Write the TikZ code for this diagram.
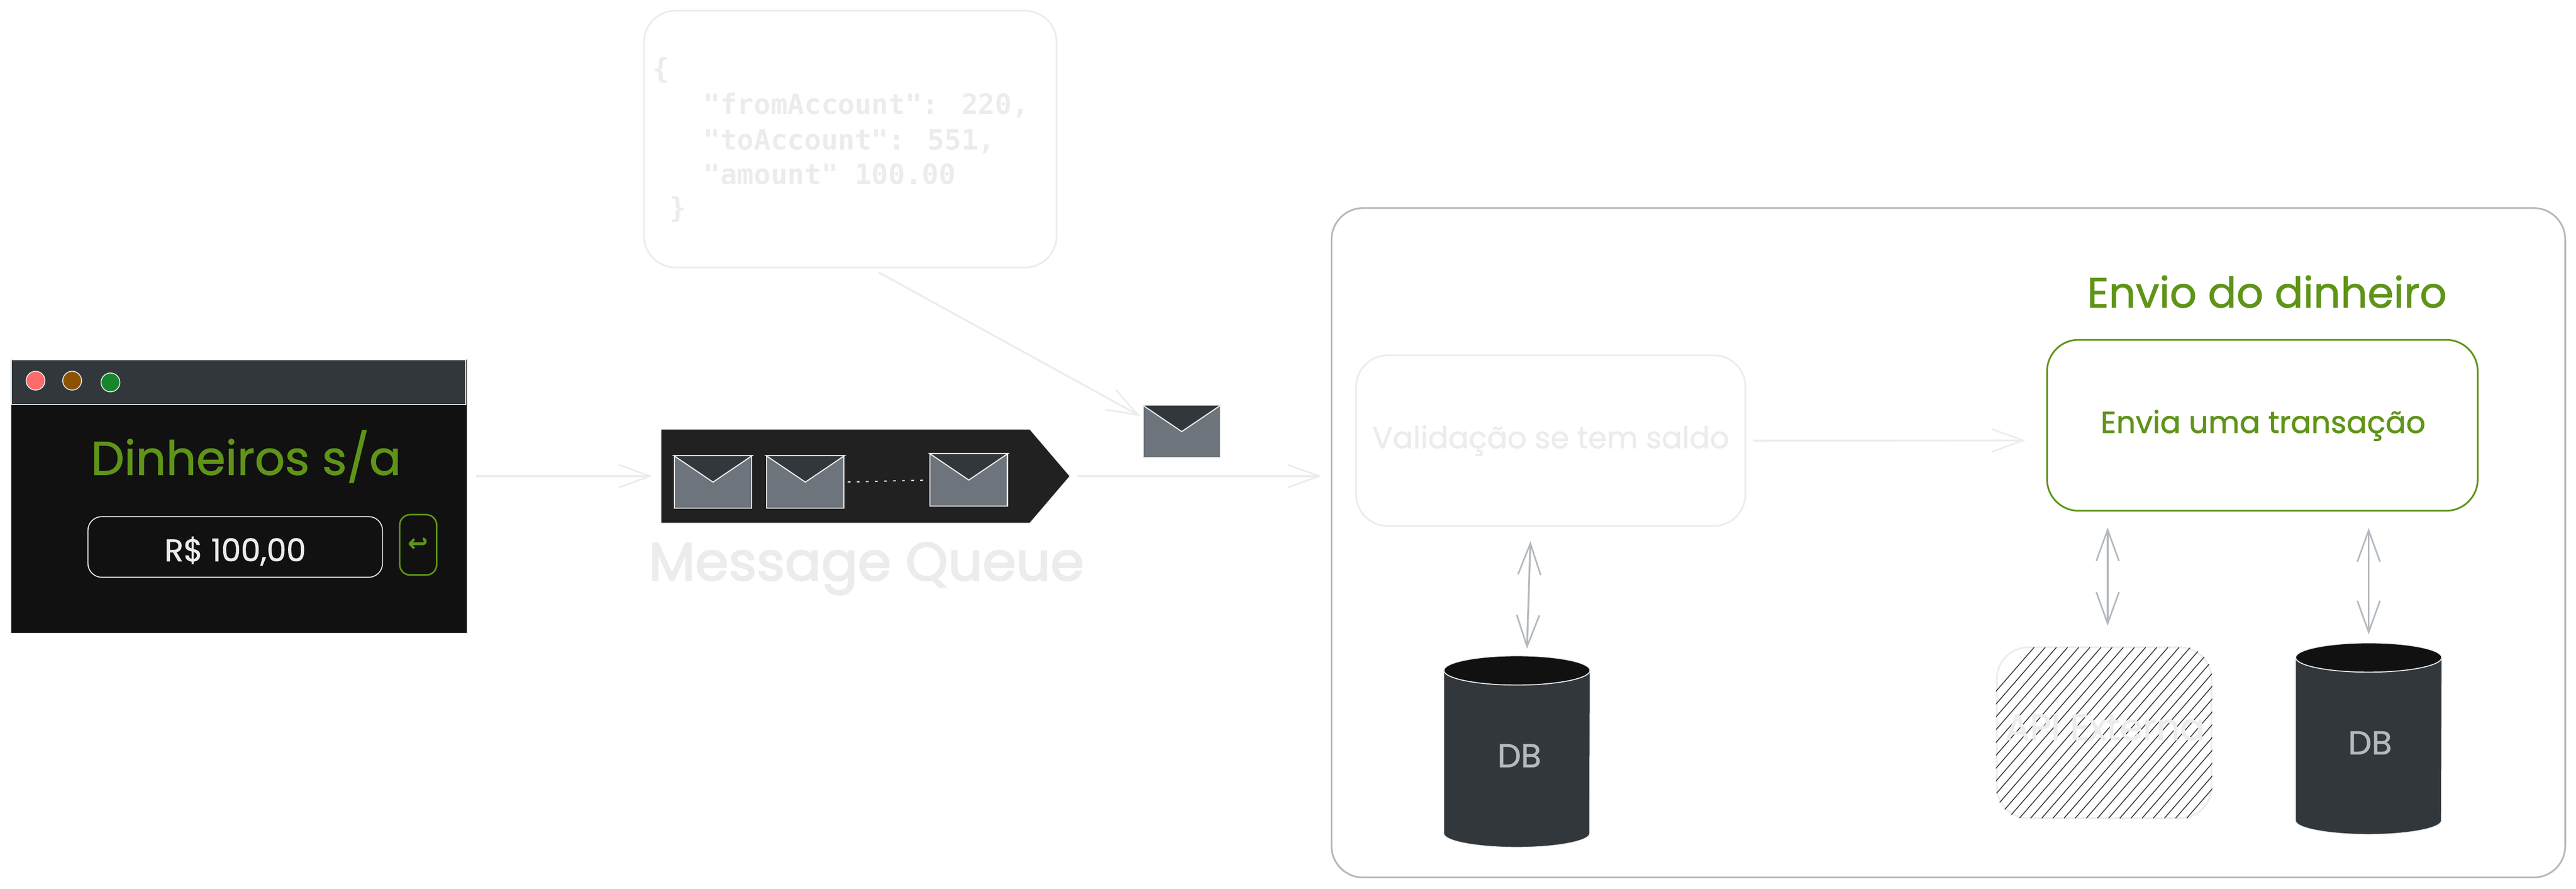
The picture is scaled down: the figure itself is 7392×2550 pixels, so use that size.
\documentclass[tikz,border=0pt]{standalone}
\usepackage{fontspec}
\usetikzlibrary{arrows.meta,shapes.symbols}
\setmainfont{Poppins}
\newfontfamily\sketchfont{Poppins}[FakeBold=1.2]
\newfontfamily\heavyfont{Poppins}[FakeBold=2.5]
\newfontfamily\jsonfont{DejaVu Sans Mono}
\newfontfamily\symbfont{DejaVu Sans}
\definecolor{faint}{HTML}{ECECEC}
\definecolor{greyline}{HTML}{B4B9BE}
\definecolor{leaf}{HTML}{5F9418}
\definecolor{slate}{HTML}{32373B}
\definecolor{ink}{HTML}{111111}
\definecolor{stone}{HTML}{6E747C}
\definecolor{dotredc}{HTML}{FF6B6B}
\definecolor{dotbrownc}{HTML}{8C5200}
\definecolor{dotgreenc}{HTML}{18852B}
\tikzset{
	arr/.style={draw=faint,line width=1.5pt,-{Straight Barb[length=.9cm,width=.65cm,line width=1.3pt]}},
	biarr/.style={draw=greyline,line width=1.5pt,{Straight Barb[length=.9cm,width=.65cm,line width=1.3pt]}-{Straight Barb[length=.9cm,width=.65cm,line width=1.3pt]}},
	softbox/.style={draw=faint,line width=1.4pt,rounded corners=.9cm,inner sep=0pt},
	dbbody/.style={rectangle,minimum width=4.19cm,minimum height=5.48cm,inner sep=0pt},
	envbody/.style={rectangle,draw=faint,fill=stone,line width=.9pt,minimum width=2.22cm,minimum height=1.49cm,inner sep=0pt},
	dot/.style={circle,draw=faint,line width=.7pt,minimum size=.54cm,inner sep=0pt},
	lbl/.style={anchor=base,inner sep=0pt},
	jsonline/.style={anchor=base west,text=faint,inner sep=0pt,font=\jsonfont\bfseries\fontsize{22.8}{28}\selectfont},
}
\begin{document}
\begin{tikzpicture}[x=.01cm,y=-.01cm]
	\useasboundingbox (0,0) rectangle (7392,2550);
	% janela
	\node[rectangle,draw=faint,fill=ink,line width=.7pt,minimum width=13.1cm,minimum height=7.85cm,inner sep=0pt] (window) at (686,1424) {};
	\node[rectangle,draw=faint,fill=slate,line width=.7pt,minimum width=13.03cm,minimum height=1.28cm,inner sep=0pt] (winbar) at (685,1096) {};
	\node[dot,fill=dotredc] (dotred) at (102,1092) {};
	\node[dot,fill=dotbrownc] (dotbrown) at (207,1092) {};
	\node[dot,fill=dotgreenc] (dotgreen) at (317,1097) {};
	\node[lbl,text=leaf,font=\sketchfont\fontsize{38.5}{42}\selectfont] (wintitle) at (706,1362) {Dinheiros s/a};
	\node[draw=faint,line width=.8pt,rounded corners=.4cm,minimum width=8.45cm,minimum height=1.74cm,inner sep=0pt] (amount) at (675,1569) {};
	\node[lbl,text=faint,font=\sketchfont\fontsize{25.5}{28}\selectfont] (amounttext) at (675,1610) {R\$ 100,00};
	\node[draw=leaf,line width=1.3pt,rounded corners=.3cm,minimum width=1.06cm,minimum height=1.73cm,inner sep=0pt,text=leaf,font=\symbfont\bfseries\fontsize{20}{24}\selectfont] (sendbtn) at (1200,1563) {↩};
	% fila
	\node[signal,signal to=east,signal pointer angle=99,draw=faint,fill=black!87,line width=.6pt,minimum width=11.73cm,minimum height=2.69cm,inner sep=0pt] (queue) at (2426,1366) {};
	\draw[arr,shorten <=.24cm,shorten >=.23cm] (window.east |- queue.west) -- (queue.west);
	\foreach \name/\cx/\cy in {msgone/2046/1383,msgtwo/2311/1383,msgthree/2780/1377,msgfree/3391/1238}{
		\node[envbody] (\name) at (\cx,\cy) {};
		\draw[draw=faint,fill=slate,line width=.9pt] (\name.north west) -- (\name.center) -- (\name.north east) -- cycle;
	}
	\draw[draw=faint,line width=.9pt,dash pattern=on .08cm off .18cm,shorten <=.09cm] (msgtwo.east) -- (msgthree.west);
	\node[lbl,text=faint,font=\heavyfont\fontsize{44}{48}\selectfont] (queuename) at (2486,1665) {Message Queue};
	% json
	\node[softbox,minimum width=11.83cm,minimum height=7.36cm] (jsonbox) at (2440,399) {};
	\node[jsonline] (jsonopen) at (1872,225) {\{};
	\node[jsonline] (jsonfrom) at (2018,327) {"fromAccount": 220,};
	\node[jsonline] (jsonto) at (2018,429) {"toAccount": 551,};
	\node[jsonline] (jsonamount) at (2018,528) {"amount" 100.00};
	\node[jsonline] (jsonclose) at (1920,625) {\}};
	\coordinate (jsonout) at (2521,781);
	\draw[arr,shorten >=.08cm] (jsonout) -- (msgfree.160);
	% servico
	\node[draw=greyline,line width=1.4pt,rounded corners=.9cm,minimum width=35.38cm,minimum height=19.19cm,inner sep=0pt] (service) at (5591,1557) {};
	\draw[arr,shorten <=.21cm,shorten >=.26cm] (queue.east) -- (service.west |- queue.east);
	\node[softbox,minimum width=11.16cm,minimum height=4.89cm] (checkbox) at (4450,1264) {};
	\node[lbl,text=faint,font=\sketchfont\fontsize{24.6}{28}\selectfont] (checktext) at (4450,1286) {Validação se tem saldo};
	\node[draw=leaf,line width=1.4pt,rounded corners=.9cm,minimum width=12.35cm,minimum height=4.9cm,inner sep=0pt] (sendbox) at (6492,1220) {};
	\node[lbl,text=leaf,font=\sketchfont\fontsize{24.8}{28}\selectfont] (sendtext) at (6494,1242) {Envia uma transação};
	\node[lbl,text=leaf,font=\sketchfont\fontsize{34.4}{38}\selectfont] (sendtitle) at (6505,882) {Envio do dinheiro};
	\draw[arr,shorten <=.2cm,shorten >=.59cm] (checkbox.east) -- (sendbox.184.5);
	% bancos
	\foreach \name/\cx/\cy in {dbone/4353/2156,dbtwo/6797/2119}{
		\node[dbbody] (\name) at (\cx,\cy) {};
		\draw[draw=faint,fill=slate,line width=.8pt] ([yshift=-.42cm]\name.north west) -- ([yshift=.4cm]\name.south west) arc[start angle=180,end angle=360,x radius=2.095cm,y radius=.4cm] -- ([yshift=-.42cm]\name.north east) -- cycle;
		\draw[draw=faint,fill=ink,line width=.8pt] ([yshift=-.42cm]\name.north) ellipse[x radius=2.095cm,y radius=.42cm];
	}
	\node[lbl,text=greyline,font=\sketchfont\fontsize{27}{30}\selectfont] (dbonetext) at (4360,2201) {DB};
	\node[lbl,text=greyline,font=\sketchfont\fontsize{27}{30}\selectfont] (dbtwotext) at (6801,2164) {DB};
	\draw[biarr,shorten <=.41cm,shorten >=.2cm] (checkbox.257) -- ([xshift=.28cm]dbone.north);
	\draw[biarr,shorten <=.47cm,shorten >=.24cm] (dbtwo.north |- sendbox.south) -- (dbtwo.north);
	% api
	\node[softbox,fill=white,minimum width=6.15cm,minimum height=4.9cm] (apibox) at (6038,2102) {};
	\begin{scope}
		\clip[rounded corners=.9cm] (apibox.south west) rectangle (apibox.north east);
		\foreach \i in {5411,5443,...,6350}{
			\draw[slate,line width=.7pt] (\i,2347) -- ({\i+426},1857);
		}
	\end{scope}
	\node[lbl,text=faint,font=\sketchfont\fontsize{30}{34}\selectfont] (apitext) at (6040,2123) {API Externa};
	\draw[biarr,shorten <=.45cm,shorten >=.59cm] ([xshift=.1cm]apibox.north |- sendbox.south) -- ([xshift=.1cm]apibox.north);
\end{tikzpicture}
\end{document}
